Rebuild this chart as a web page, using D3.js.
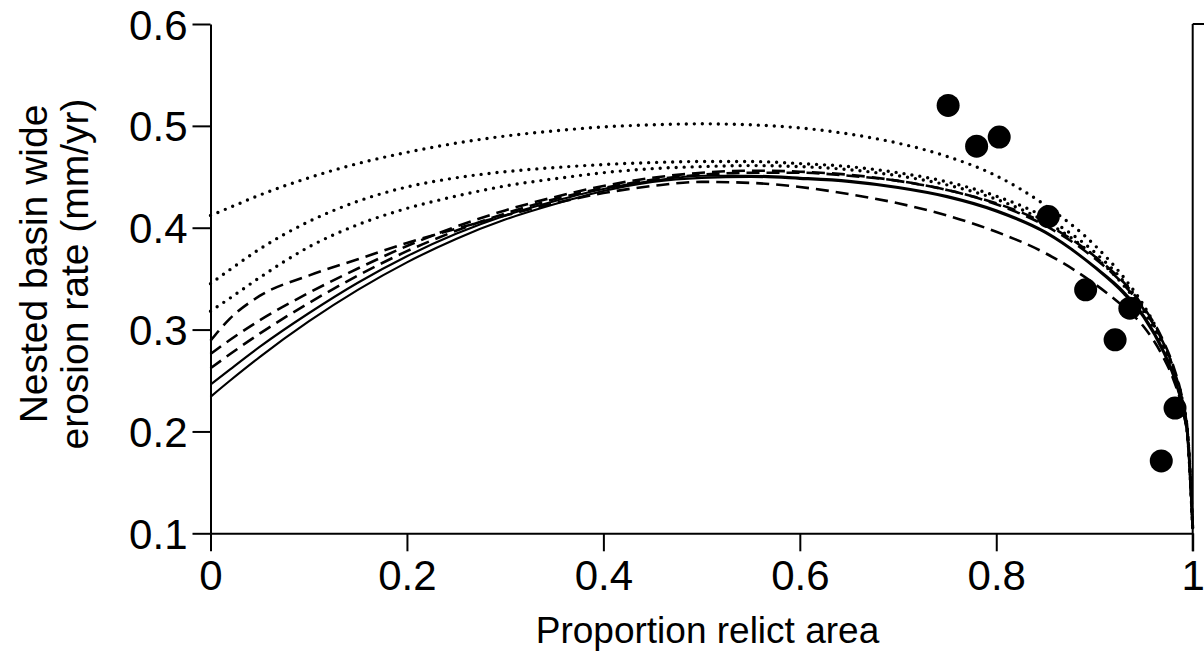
<!DOCTYPE html>
<html>
<head>
<meta charset="utf-8">
<script src="https://cdn.jsdelivr.net/npm/d3@7"></script>
<style>
  html, body { margin: 0; padding: 0; background: #fff; }
  svg { display: block; }
  text { font-family: "Liberation Sans", Arial, Helvetica, sans-serif; fill: #000; }
</style>
</head>
<body>
<svg id="chart" width="1204" height="654"></svg>
<script>
// ---------------- data ----------------
const xValues = [0, 0.02, 0.05, 0.1, 0.15, 0.2, 0.25, 0.3, 0.35, 0.4, 0.45, 0.5, 0.55, 0.6, 0.65, 0.7, 0.75, 0.8, 0.85, 0.9, 0.93, 0.95, 0.97, 0.98, 0.99, 0.995, 1.0];

const dotted1 = [0.412,0.420,0.432,0.449,0.463,0.474,0.483,0.490,0.495,0.499,0.501,0.502,0.501,0.498,0.492,0.483,0.470,0.451,0.422,0.383,0.351,0.324,0.287,0.262,0.228,0.197,0.105];
const dotted2 = [0.345,0.359,0.379,0.406,0.426,0.440,0.449,0.455,0.459,0.462,0.464,0.465,0.465,0.463,0.460,0.454,0.445,0.431,0.410,0.376,0.347,0.321,0.285,0.260,0.225,0.195,0.105];
const dotted3 = [0.318,0.331,0.351,0.381,0.403,0.419,0.431,0.441,0.448,0.454,0.458,0.460,0.461,0.460,0.457,0.451,0.442,0.428,0.406,0.372,0.343,0.318,0.282,0.258,0.223,0.193,0.105];
const dashed1 = [0.289,0.311,0.333,0.353,0.369,0.385,0.399,0.412,0.424,0.434,0.441,0.445,0.444,0.440,0.433,0.424,0.412,0.396,0.375,0.345,0.322,0.303,0.273,0.252,0.220,0.192,0.105];
const dashed2 = [0.276,0.290,0.309,0.336,0.360,0.382,0.401,0.417,0.430,0.441,0.449,0.454,0.456,0.455,0.452,0.446,0.437,0.423,0.402,0.370,0.344,0.320,0.287,0.263,0.227,0.197,0.105];
const dashed3 = [0.262,0.276,0.296,0.326,0.353,0.377,0.397,0.414,0.428,0.439,0.447,0.452,0.454,0.454,0.451,0.446,0.437,0.424,0.404,0.372,0.346,0.322,0.289,0.265,0.229,0.198,0.105];
const solid1  = [0.246,0.261,0.283,0.316,0.346,0.372,0.394,0.412,0.426,0.438,0.446,0.451,0.451,0.449,0.446,0.440,0.431,0.417,0.396,0.362,0.337,0.314,0.280,0.257,0.223,0.193,0.105];
const solid2  = [0.234,0.250,0.273,0.308,0.339,0.366,0.389,0.408,0.423,0.436,0.445,0.449,0.450,0.448,0.445,0.439,0.430,0.416,0.395,0.361,0.335,0.312,0.278,0.255,0.221,0.191,0.105];

const obsX = [0.751, 0.780, 0.803, 0.853, 0.891, 0.921, 0.936, 0.982, 0.968];
const obsY = [0.520, 0.480, 0.489, 0.411, 0.339, 0.290, 0.321, 0.223, 0.171];

const xTicks = [0, 0.2, 0.4, 0.6, 0.8, 1];
const xTickLabels = ["0", "0.2", "0.4", "0.6", "0.8", "1"];
const yTicks = [0.1, 0.2, 0.3, 0.4, 0.5, 0.6];
const yTickLabels = ["0.1", "0.2", "0.3", "0.4", "0.5", "0.6"];

const xTitle = "Proportion relict area";
const yTitleLines = ["Nested basin wide", "erosion rate (mm/yr)"];

// ---------------- layout ----------------
const W = 1204, H = 654;
const plotLeft = 210.5, plotRight = 1192.7, plotTop = 24, plotBottom = 533.3;

const x = d3.scaleLinear().domain([0, 1]).range([plotLeft, plotRight]);
const y = d3.scaleLinear().domain([0.1, 0.6]).range([plotBottom, plotTop]);

const svg = d3.select("#chart");

const series = [
  { v: dotted1, style: "dotted" },
  { v: dotted2, style: "dotted" },
  { v: dotted3, style: "dotted" },
  { v: dashed1, style: "dashed" },
  { v: dashed2, style: "dashed" },
  { v: dashed3, style: "dashed" },
  { v: solid1,  style: "solid" },
  { v: solid2,  style: "solid" }
];

const line = d3.line()
  .x((d, i) => x(xValues[i]))
  .y(d => y(d))
  .curve(d3.curveMonotoneX);

const gLines = svg.append("g");
series.forEach(s => {
  const p = gLines.append("path")
    .attr("d", line(s.v))
    .attr("fill", "none")
    .attr("stroke", "#000");
  if (s.style === "dotted") {
    p.attr("stroke-width", 3.4).attr("stroke-linecap", "round").attr("stroke-dasharray", "0 8");
  } else if (s.style === "dashed") {
    p.attr("stroke-width", 2.6).attr("stroke-dasharray", "13 7");
  } else {
    p.attr("stroke-width", 2.2);
  }
});

// axes
const yAxis = d3.axisLeft(y).tickValues(yTicks).tickSize(18).tickSizeOuter(0).tickPadding(5)
  .tickFormat((d, i) => yTickLabels[i]);
const xAxis = d3.axisBottom(x).tickValues(xTicks).tickSize(18).tickSizeOuter(0).tickPadding(8)
  .tickFormat((d, i) => xTickLabels[i]);

const gy = svg.append("g").attr("transform", `translate(${plotLeft},0)`).call(yAxis);
const gx = svg.append("g").attr("transform", `translate(0,${plotBottom})`).call(xAxis);

[gx, gy].forEach(g => {
  g.selectAll("path.domain").attr("stroke", "#000").attr("stroke-width", 2);
  g.selectAll(".tick line").attr("stroke", "#000").attr("stroke-width", 2);
  g.selectAll(".tick text")
    .style("font-family", '"Liberation Sans", Arial, sans-serif')
    .style("font-size", "42px")
    .attr("fill", "#000");
});
gy.selectAll(".tick text").attr("dy", "0.36em");
gx.selectAll(".tick text").attr("dy", "0.74em");

// right frame (next panel's edge)
svg.append("line")
  .attr("x1", x(1)).attr("x2", x(1))
  .attr("y1", y(0.6)).attr("y2", y(0.1) + 18)
  .attr("stroke", "#000").attr("stroke-width", 2);
svg.append("line")
  .attr("x1", x(1)).attr("x2", W)
  .attr("y1", y(0.6)).attr("y2", y(0.6))
  .attr("stroke", "#000").attr("stroke-width", 2);

// observation points
svg.append("g").selectAll("circle")
  .data(obsX)
  .join("circle")
  .attr("cx", d => x(d))
  .attr("cy", (d, i) => y(obsY[i]))
  .attr("r", 11.5)
  .attr("fill", "#000");

// titles
svg.append("text")
  .attr("x", 707.5)
  .attr("y", 643)
  .attr("text-anchor", "middle")
  .style("font-size", "37px")
  .text(xTitle);

const yt = svg.append("text")
  .attr("transform", "translate(0,270) rotate(-90)")
  .attr("text-anchor", "middle")
  .style("font-size", "39px");
yt.append("tspan").attr("x", 6).attr("y", 47).text(yTitleLines[0]);
yt.append("tspan").attr("x", -4).attr("y", 88).text(yTitleLines[1]);
</script>
</body>
</html>
